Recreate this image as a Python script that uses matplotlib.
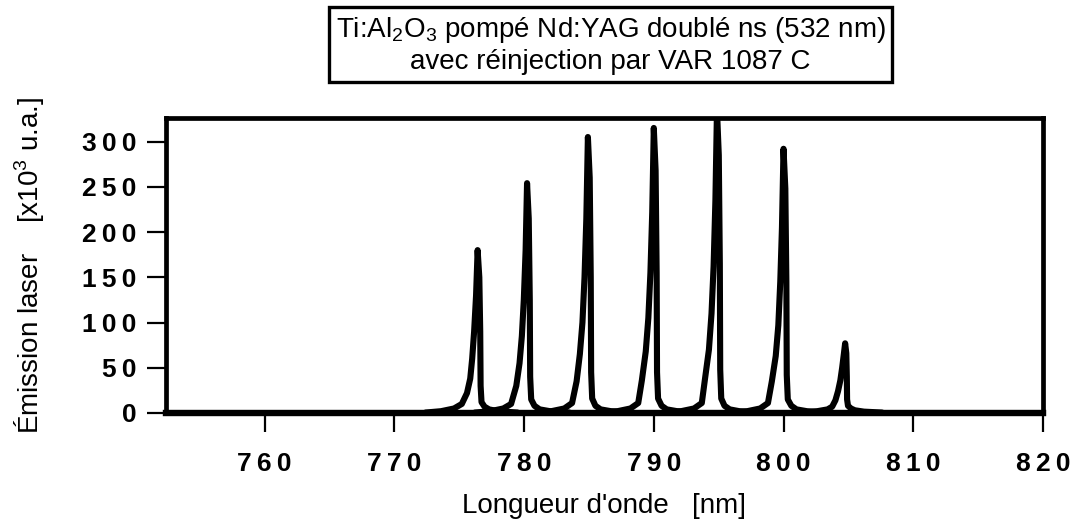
import matplotlib
matplotlib.use("Agg")
import matplotlib.pyplot as plt

# Laser emission lines, one spectrum per injection wavelength (nm, x10^3 a.u.)
centres = [776.42, 780.23, 784.92, 790.00, 794.87, 800.00, 804.75]
heights = [180, 254, 305, 315, 335, 292, 77]

# Traced line profiles: wavelength and intensity for each spectrum
line_wl = [
    [772.4, 773.6, 774.6, 775.2, 775.6, 775.85, 776.0, 776.15, 776.3, 776.42,
     776.55, 776.62, 776.65, 776.72, 776.95, 777.3, 778.0, 779.5],
    [776.2, 777.4, 778.4, 779.0, 779.4, 779.65, 779.83, 779.98, 780.12, 780.23,
     780.36, 780.44, 780.47, 780.55, 780.8, 781.2, 782.0, 783.5],
    [780.9, 782.1, 783.1, 783.7, 784.05, 784.3, 784.5, 784.66, 784.8, 784.92,
     785.06, 785.14, 785.17, 785.25, 785.5, 785.9, 786.7, 788.2],
    [786.0, 787.2, 788.2, 788.8, 789.08, 789.38, 789.58, 789.74, 789.88, 790.00,
     790.14, 790.22, 790.25, 790.33, 790.6, 791.0, 791.8, 793.3],
    [790.9, 792.1, 793.1, 793.7, 793.95, 794.25, 794.45, 794.61, 794.75, 794.87,
     795.01, 795.09, 795.12, 795.2, 795.45, 795.85, 796.6, 798.1],
    [796.0, 797.2, 798.2, 798.8, 799.1, 799.4, 799.6, 799.75, 799.88, 800.00,
     800.14, 800.22, 800.25, 800.33, 800.6, 801.0, 801.8, 803.3],
    [801.5, 802.6, 803.4, 803.75, 804.0, 804.2, 804.38, 804.52, 804.65, 804.75,
     804.84, 804.88, 804.9, 804.97, 805.2, 805.5, 806.2, 807.6],
]
line_int = [
    [0.5, 2, 5, 10, 22, 38, 60, 90, 130, 180, 150, 90, 30, 12, 7, 4, 2, 0.5],
    [0.5, 2, 5, 10, 30, 55, 85, 125, 180, 254, 215, 125, 40, 15, 8, 4, 2, 0.5],
    [0.5, 2, 5, 11, 35, 65, 100, 150, 215, 305, 260, 150, 45, 16, 8, 4, 2, 0.5],
    [0.5, 2, 5, 11, 36, 68, 105, 155, 222, 315, 268, 155, 45, 16, 8, 4, 2, 0.5],
    [0.5, 2, 5, 11, 38, 70, 110, 162, 235, 335, 285, 165, 48, 16, 8, 4, 2, 0.5],
    [0.5, 2, 5, 11, 35, 63, 97, 145, 205, 292, 248, 145, 42, 15, 8, 4, 2, 0.5],
    [0.5, 2, 4, 7, 14, 24, 36, 50, 65, 77, 66, 40, 15, 8, 5, 3, 1.5, 0.5],
]

x_ticks = [760, 770, 780, 790, 800, 810, 820]
y_ticks = [0, 50, 100, 150, 200, 250, 300]

plt.rcParams["font.family"] = ["Liberation Sans", "DejaVu Sans"]
plt.rcParams["mathtext.default"] = "regular"

fig = plt.figure(figsize=(10.76, 5.21), dpi=100)
ax = fig.add_axes([0.1543, 0.2073, 0.8150, 0.5662])

for wl, inten in zip(line_wl, line_int):
    ax.plot(wl, inten, color="black", lw=4.4, solid_joinstyle="round",
            solid_capstyle="round")

ax.set_xlim(752.4, 820)
ax.set_ylim(0, 326)

for side in ax.spines.values():
    side.set_linewidth(3.4)
ax.spines["bottom"].set_linewidth(4.6)

ax.set_xticks(x_ticks)
ax.set_yticks(y_ticks)
gap = "\u2009"
ax.set_xticklabels([gap.join(str(v)) for v in x_ticks])
ax.set_yticklabels([gap.join(str(v)) for v in y_ticks])
ax.tick_params(axis="both", direction="out", length=14, width=1.6,
               labelsize=19)
ax.tick_params(axis="x", pad=14)
ax.tick_params(axis="y", pad=7)
for lab in ax.get_xticklabels() + ax.get_yticklabels():
    lab.set_fontweight("bold")

ax.set_xlabel("Longueur d'onde   [nm]", fontsize=20, labelpad=12)
ax.set_ylabel(r"Émission laser    [x10$^{3}$ u.a.]", fontsize=20, labelpad=26)

fig.text(0.5674, 0.9127,
         "Ti:Al$_2$O$_3$ pompé Nd:YAG doublé ns (532 nm)\navec réinjection par VAR 1087 C",
         ha="center", va="center", fontsize=20, linespacing=1.2,
         bbox=dict(boxstyle="square,pad=0.22", facecolor="white",
                   edgecolor="black", linewidth=2.4))

fig.savefig("out.png", dpi=100)
